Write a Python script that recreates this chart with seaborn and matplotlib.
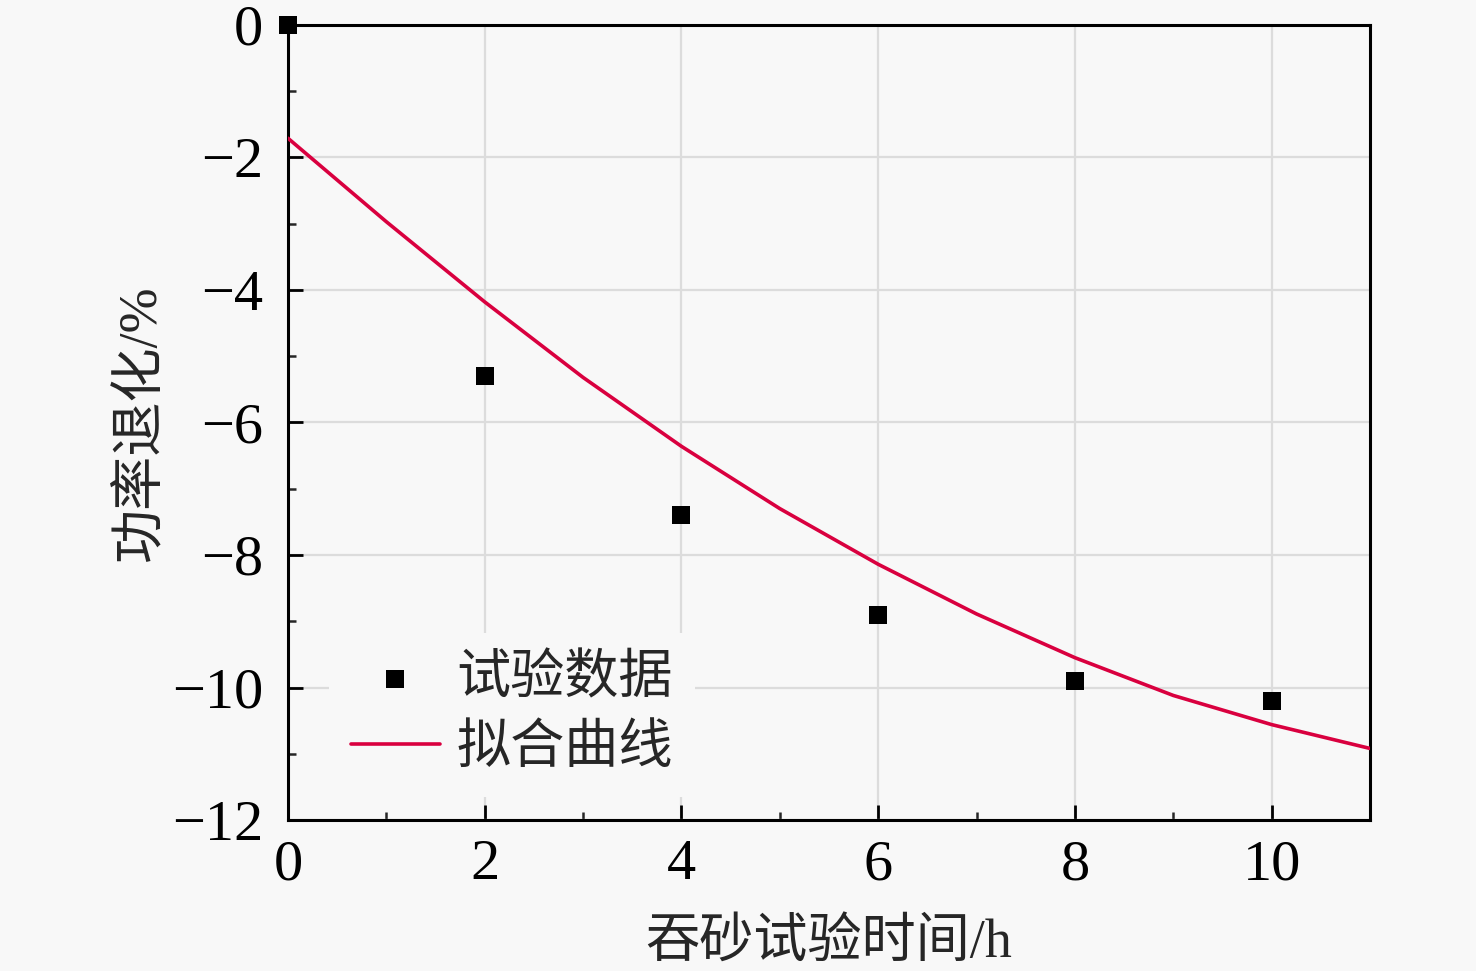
import numpy as np
import pandas as pd
import matplotlib
matplotlib.use("Agg")
import matplotlib.pyplot as plt
import seaborn as sns
from matplotlib.ticker import MultipleLocator

# test data
test_hours = [0, 2, 4, 6, 8, 10]
test_loss = [0.0, -5.3, -7.4, -8.9, -9.9, -10.2]

# fitted curve points
fit_hours = [0, 1, 2, 3, 4, 5, 6, 7, 8, 9, 10, 11]
fit_loss = [-1.71, -2.97, -4.18, -5.32, -6.36, -7.30, -8.14, -8.89, -9.55, -10.12, -10.56, -10.92]

x_ticks = [0, 2, 4, 6, 8, 10]
y_ticks = [0, -2, -4, -6, -8, -10, -12]

bg = "#f8f8f8"
sns.set_style("ticks")
plt.rcParams['font.family'] = ['Liberation Serif', 'Noto Sans CJK SC', 'DejaVu Sans']
plt.rcParams['axes.unicode_minus'] = True

fig = plt.figure(figsize=(14.76, 9.71), dpi=100, facecolor=bg)
ax = fig.add_axes([0.1951, 0.1555, 0.7331, 0.8188])
ax.set_facecolor(bg)

df_test = pd.DataFrame({"t": test_hours, "p": test_loss})
df_fit = pd.DataFrame({"t": fit_hours, "p": fit_loss})

sns.scatterplot(data=df_test, x="t", y="p", ax=ax, marker="s", s=150, color="black",
                edgecolor="black", linewidth=0, label="试验数据", zorder=4, clip_on=False)
sns.lineplot(data=df_fit, x="t", y="p", ax=ax, color="#d9003f", linewidth=2.6,
             label="拟合曲线", zorder=3)

ax.set_xlim(0, 11)
ax.set_ylim(-12, 0)
ax.set_xticks(x_ticks)
ax.set_yticks(y_ticks)
ax.xaxis.set_minor_locator(MultipleLocator(1))
ax.yaxis.set_minor_locator(MultipleLocator(1))
ax.grid(True, which="major", color="#dcdcdc", linewidth=1.6, zorder=0)
ax.set_axisbelow(True)

ax.tick_params(which="major", direction="in", length=11, width=2, labelsize=42,
               top=False, right=False, colors="black")
ax.tick_params(axis="x", which="major", pad=14)
ax.tick_params(axis="y", which="major", pad=18)
ax.tick_params(which="minor", direction="in", length=6, width=1.8, top=False, right=False)
for sp in ax.spines.values():
    sp.set_linewidth(2.2)
    sp.set_color("black")
    sp.set_visible(True)

ax.set_xlabel("吞砂试验时间/h", fontsize=39, labelpad=20)
ax.set_ylabel("功率退化/%", fontsize=39, labelpad=4)

leg = ax.legend(loc="upper left", bbox_to_anchor=(0.038, 0.235), fontsize=39,
                frameon=True, facecolor=bg, edgecolor="none", framealpha=1,
                handlelength=1.65, handletextpad=0.3, labelspacing=0.36,
                borderpad=0.4, borderaxespad=0, markerscale=1.0)

fig.savefig("out.png", dpi=100, facecolor=bg)
